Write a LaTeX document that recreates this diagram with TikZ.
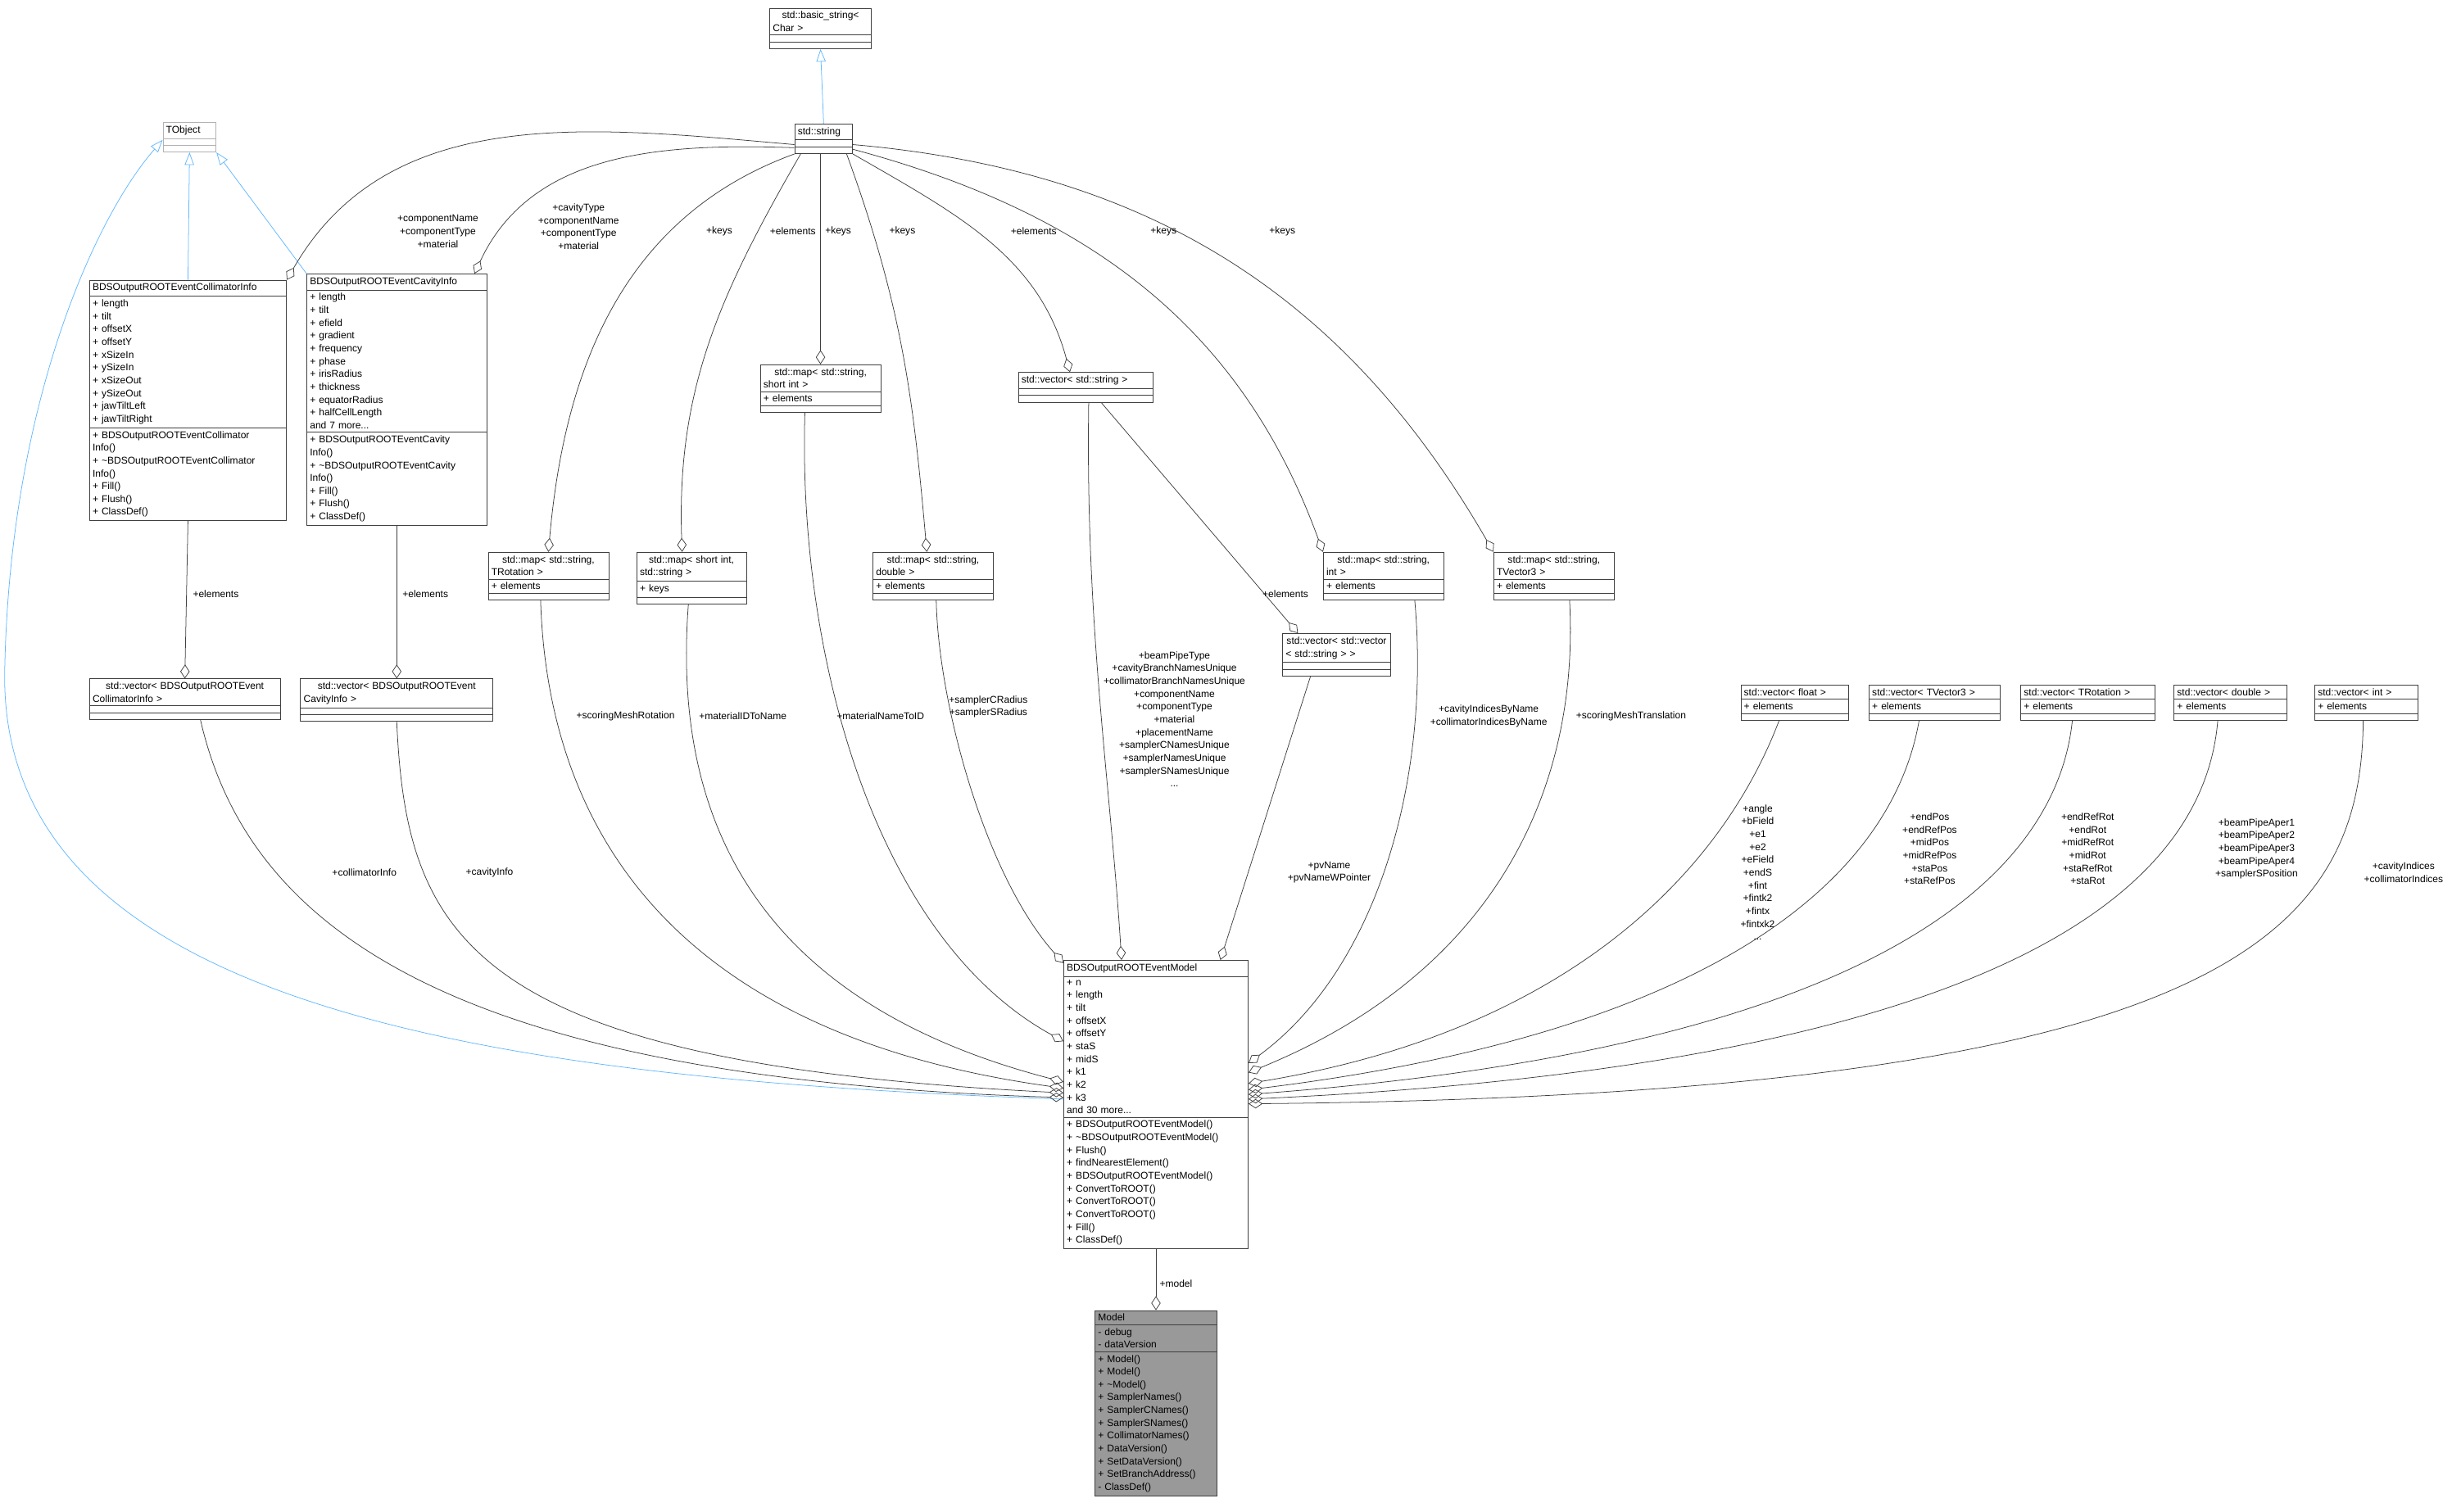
\documentclass[tikz,border=0pt]{standalone}
\usepackage{fontspec}
\setmainfont{Liberation Sans}
\usetikzlibrary{arrows.meta,calc,shapes.multipart}
\definecolor{inhblue}{HTML}{63B8FF}
\definecolor{edgegray}{HTML}{404040}
\newcommand{\fs}{\fontsize{6.3}{8.2}\selectfont}
\tikzset{
	cls/.style={rectangle split, rectangle split parts=3, rectangle split empty part height=9pt,
		draw=edgegray, fill=white, inner sep=2pt, align=left, font=\fs, anchor=north west},
	agg/.style={{Diamond[open,length=9pt,width=6pt]}-, draw=edgegray},
	inh/.style={-{Triangle[open,length=8pt,width=6pt]}, draw=inhblue},
	lbl/.style={font=\fs, align=center, inner sep=0pt}
}
\begin{document}
\begin{tikzpicture}[x=1pt,y=1pt]
	\useasboundingbox (0,0) rectangle (1568,-967);

	% classes
	\node[cls, text width=61] (bstr) at (492,-5) {\centering std::basic\_string<\\Char >\nodepart{two}\nodepart{three}};
	\node[cls, text width=33] (str) at (508,-79) {\centering std::string\nodepart{two}\nodepart{three}};
	\node[cls, draw=black!30, text width=30] (tobj) at (104,-78) {\centering TObject\nodepart{two}\nodepart{three}};
	\node[cls, text width=122] (colinfo) at (57,-179) {\centering BDSOutputROOTEventCollimatorInfo
		\nodepart{two}+ length\\+ tilt\\+ offsetX\\+ offsetY\\+ xSizeIn\\+ ySizeIn\\+ xSizeOut\\+ ySizeOut\\+ jawTiltLeft\\+ jawTiltRight
		\nodepart{three}+ BDSOutputROOTEventCollimator\\Info()\\+ \textasciitilde BDSOutputROOTEventCollimator\\Info()\\+ Fill()\\+ Flush()\\+ ClassDef()};
	\node[cls, text width=111] (cavinfo) at (196,-175) {\centering BDSOutputROOTEventCavityInfo
		\nodepart{two}+ length\\+ tilt\\+ efield\\+ gradient\\+ frequency\\+ phase\\+ irisRadius\\+ thickness\\+ equatorRadius\\+ halfCellLength\\and 7 more...
		\nodepart{three}+ BDSOutputROOTEventCavity\\Info()\\+ \textasciitilde BDSOutputROOTEventCavity\\Info()\\+ Fill()\\+ Flush()\\+ ClassDef()};
	\node[cls, text width=73] (maprot) at (312,-353) {\centering std::map< std::string,\\TRotation >\nodepart{two}+ elements\nodepart{three}};
	\node[cls, text width=66] (mapsid) at (407,-353) {\centering std::map< short int,\\std::string >\nodepart{two}+ keys\nodepart{three}};
	\node[cls, text width=73] (mapsshort) at (486,-233) {\centering std::map< std::string,\\short int >\nodepart{two}+ elements\nodepart{three}};
	\node[cls, text width=73] (mapdbl) at (558,-353) {\centering std::map< std::string,\\double >\nodepart{two}+ elements\nodepart{three}};
	\node[cls, text width=82] (vecstr) at (651,-238) {\centering std::vector< std::string >\nodepart{two}\nodepart{three}};
	\node[cls, text width=65] (vecvec) at (820,-405) {\centering std::vector< std::vector\\< std::string > >\nodepart{two}\nodepart{three}};
	\node[cls, text width=73] (mapint) at (846,-353) {\centering std::map< std::string,\\int >\nodepart{two}+ elements\nodepart{three}};
	\node[cls, text width=73] (mapvec3) at (955,-353) {\centering std::map< std::string,\\TVector3 >\nodepart{two}+ elements\nodepart{three}};
	\node[cls, text width=118] (veccol) at (57,-434) {\centering std::vector< BDSOutputROOTEvent\\CollimatorInfo >\nodepart{two}\nodepart{three}};
	\node[cls, text width=119] (veccav) at (192,-434) {\centering std::vector< BDSOutputROOTEvent\\CavityInfo >\nodepart{two}\nodepart{three}};
	\node[cls, text width=65] (vecflt) at (1113,-438) {\centering std::vector< float >\nodepart{two}+ elements\nodepart{three}};
	\node[cls, text width=80] (vecv3) at (1195,-438) {\centering std::vector< TVector3 >\nodepart{two}+ elements\nodepart{three}};
	\node[cls, text width=82] (vecrot) at (1292,-438) {\centering std::vector< TRotation >\nodepart{two}+ elements\nodepart{three}};
	\node[cls, text width=68] (vecdbl) at (1390,-438) {\centering std::vector< double >\nodepart{two}+ elements\nodepart{three}};
	\node[cls, text width=62] (vecint) at (1480,-438) {\centering std::vector< int >\nodepart{two}+ elements\nodepart{three}};
	\node[cls, text width=114] (model) at (680,-614) {\centering BDSOutputROOTEventModel
		\nodepart{two}+ n\\+ length\\+ tilt\\+ offsetX\\+ offsetY\\+ staS\\+ midS\\+ k1\\+ k2\\+ k3\\and 30 more...
		\nodepart{three}+ BDSOutputROOTEventModel()\\+ \textasciitilde BDSOutputROOTEventModel()\\+ Flush()\\+ findNearestElement()\\+ BDSOutputROOTEventModel()\\+ ConvertToROOT()\\+ ConvertToROOT()\\+ ConvertToROOT()\\+ Fill()\\+ ClassDef()};
	\node[cls, fill=black!40, text width=74] (mdl) at (700,-838) {\centering Model
		\nodepart{two}- debug\\- dataVersion
		\nodepart{three}+ Model()\\+ Model()\\+ \textasciitilde Model()\\+ SamplerNames()\\+ SamplerCNames()\\+ SamplerSNames()\\+ CollimatorNames()\\+ DataVersion()\\+ SetDataVersion()\\+ SetBranchAddress()\\- ClassDef()};

	% inheritance
	\draw[inh] (str.north) -- (bstr.south);
	\draw[inh] (colinfo.north) -- (tobj.south);
	\draw[inh] (cavinfo.north west) -- (tobj.south east);
	\draw[inh] ([yshift=-89]model.north west) .. controls (300,-690) and (0,-640) .. (3,-430)
		.. controls (6,-260) and (60,-140) .. ([yshift=8]tobj.south west);

	% members held as std::string
	\draw[agg] (colinfo.north east) to[out=60,in=175] ([yshift=6]str.south west);
	\draw[agg] ([xshift=-8]cavinfo.north east) to[out=65,in=178] ([yshift=4]str.south west);
	\draw[agg] (maprot.north) to[out=85,in=200] (str.south west);
	\draw[agg] ([xshift=-6]mapsid.north) to[out=92,in=240] ([xshift=4]str.south west);
	\draw[agg] (mapsshort.north) -- (mapsshort.north |- str.south);
	\draw[agg] ([xshift=-4]mapdbl.north) to[out=95,in=-70] ([xshift=-4]str.south east);
	\draw[agg] ([xshift=-10]vecstr.north) to[out=105,in=-30] (str.south east);
	\draw[agg] (mapint.north west) to[out=110,in=-15] ([yshift=3]str.south east);
	\draw[agg] (mapvec3.north west) to[out=120,in=-5] ([yshift=6]str.south east);
	\node[lbl] (l1) at (280,-148) {+componentName\\+componentType\\+material};
	\node[lbl] (l2) at (370,-145) {+cavityType\\+componentName\\+componentType\\+material};
	\node[lbl] (l3) at (460,-148) {+keys};
	\node[lbl] (l4) at (507,-148) {+elements};
	\node[lbl] (l5) at (536,-148) {+keys};
	\node[lbl] (l6) at (577,-148) {+keys};
	\node[lbl] (l7) at (661,-148) {+elements};
	\node[lbl] (l8) at (744,-148) {+keys};
	\node[lbl] (l9) at (820,-148) {+keys};

	% vectors of collimator and cavity info
	\draw[agg] (veccol.north) -- (colinfo.south);
	\draw[agg] (veccav.north) -- (cavinfo.south);
	\draw[agg] ([xshift=10]vecvec.north west) -- ([xshift=10]vecstr.south);
	\node[lbl] (l10) at (138,-380) {+elements};
	\node[lbl] (l11) at (272,-380) {+elements};
	\node[lbl] (l12) at (822,-380) {+elements};

	% members of the event model
	\draw[agg] ([yshift=-88]model.north west) .. controls (300,-690) and (160,-600) .. ([xshift=10]veccol.south);
	\draw[agg] ([yshift=-85]model.north west) .. controls (300,-680) and (260,-600) .. (veccav.south);
	\draw[agg] ([yshift=-82]model.north west) .. controls (420,-660) and (350,-520) .. ([xshift=-5]maprot.south);
	\draw[agg] ([yshift=-78]model.north west) .. controls (480,-640) and (430,-520) .. ([xshift=-2]mapsid.south);
	\draw[agg] ([yshift=-52]model.north west) .. controls (560,-600) and (510,-420) .. ([xshift=-10]mapsshort.south);
	\draw[agg] ([yshift=-2]model.north west) .. controls (630,-560) and (600,-450) .. ([xshift=2]mapdbl.south);
	\draw[agg] ([xshift=-22]model.north) .. controls (710,-500) and (694,-400) .. ([xshift=2]vecstr.south);
	\draw[agg] ([xshift=-18]model.north east) -- ([xshift=18]vecvec.south west);
	\draw[agg] ([yshift=-66]model.north east) .. controls (880,-620) and (915,-500) .. ([xshift=20]mapint.south);
	\draw[agg] ([yshift=-72]model.north east) .. controls (960,-620) and (1010,-500) .. ([xshift=10]mapvec3.south);
	\draw[agg] ([yshift=-79]model.north east) .. controls (1000,-660) and (1100,-560) .. ([xshift=-10]vecflt.south);
	\draw[agg] ([yshift=-83]model.north east) .. controls (1100,-660) and (1210,-560) .. ([xshift=-10]vecv3.south);
	\draw[agg] ([yshift=-86]model.north east) .. controls (1200,-670) and (1315,-560) .. ([xshift=-10]vecrot.south);
	\draw[agg] ([yshift=-89]model.north east) .. controls (1300,-680) and (1410,-560) .. ([xshift=-8]vecdbl.south);
	\draw[agg] ([yshift=-92]model.north east) .. controls (1420,-700) and (1510,-600) .. ([xshift=-2]vecint.south);
	\draw[agg] (mdl.north -| model.south) -- (model.south);
	\node[lbl] (l13) at (233,-558) {+collimatorInfo};
	\node[lbl] (l14) at (313,-558) {+cavityInfo};
	\node[lbl] (l15) at (400,-458) {+scoringMeshRotation};
	\node[lbl] (l16) at (475,-458) {+materialIDToName};
	\node[lbl] (l17) at (563,-458) {+materialNameToID};
	\node[lbl] (l18) at (632,-452) {+samplerCRadius\\+samplerSRadius};
	\node[lbl] (l19) at (751,-460) {+beamPipeType\\+cavityBranchNamesUnique\\+collimatorBranchNamesUnique\\+componentName\\+componentType\\+material\\+placementName\\+samplerCNamesUnique\\+samplerNamesUnique\\+samplerSNamesUnique\\...};
	\node[lbl] (l20) at (850,-558) {+pvName\\+pvNameWPointer};
	\node[lbl] (l21) at (952,-458) {+cavityIndicesByName\\+collimatorIndicesByName};
	\node[lbl] (l22) at (1043,-458) {+scoringMeshTranslation};
	\node[lbl] (l23) at (1124,-558) {+angle\\+bField\\+e1\\+e2\\+eField\\+endS\\+fint\\+fintk2\\+fintx\\+fintxk2\\...};
	\node[lbl] (l24) at (1234,-543) {+endPos\\+endRefPos\\+midPos\\+midRefPos\\+staPos\\+staRefPos};
	\node[lbl] (l25) at (1335,-543) {+endRefRot\\+endRot\\+midRefRot\\+midRot\\+staRefRot\\+staRot};
	\node[lbl] (l26) at (1443,-543) {+beamPipeAper1\\+beamPipeAper2\\+beamPipeAper3\\+beamPipeAper4\\+samplerSPosition};
	\node[lbl] (l27) at (1537,-558) {+cavityIndices\\+collimatorIndices};
	\node[lbl] (l28) at (752,-821) {+model};

\end{tikzpicture}
\end{document}
